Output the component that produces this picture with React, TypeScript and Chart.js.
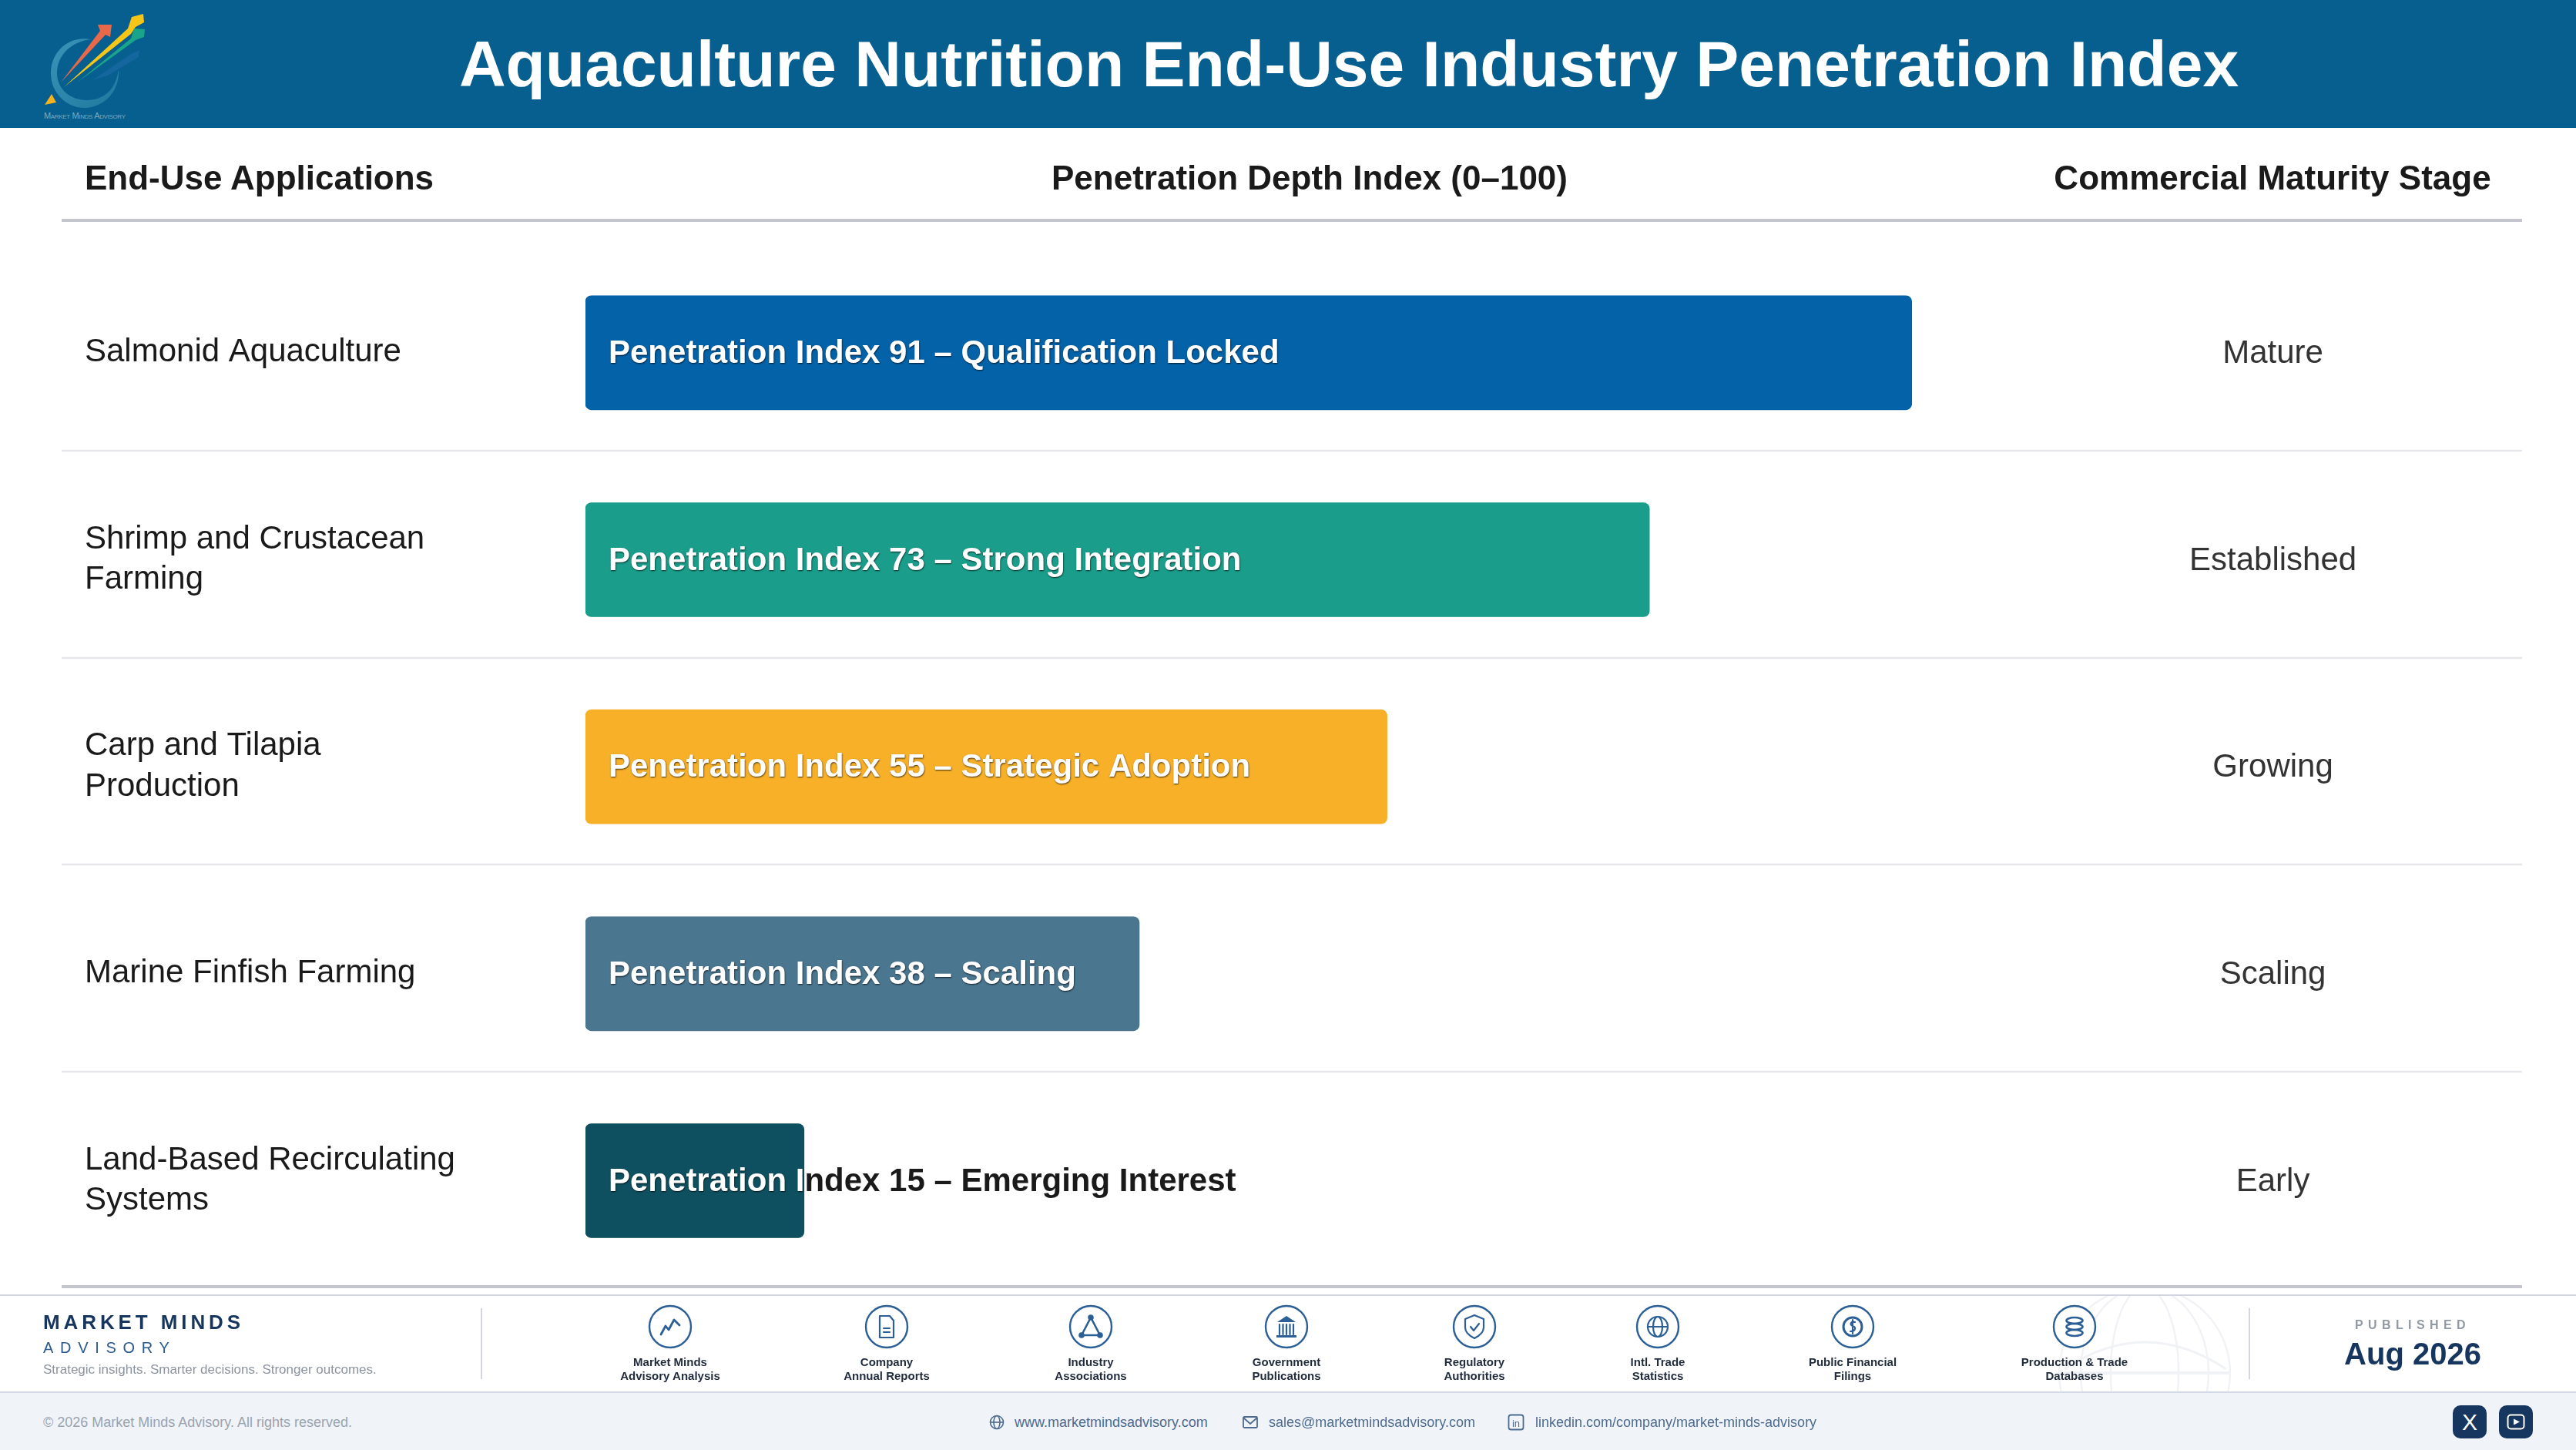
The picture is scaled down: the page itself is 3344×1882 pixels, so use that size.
import React, { useEffect, useRef } from "react";
import { Chart, registerables } from "chart.js";

Chart.register(...registerables);

const categories: (string | string[])[] = [
  "Salmonid Aquaculture",
  ["Shrimp and Crustacean", "Farming"],
  ["Carp and Tilapia", "Production"],
  "Marine Finfish Farming",
  ["Land-Based Recirculating", "Systems"],
];
const penetrationIndex = [91, 73, 55, 38, 15];
const descriptors = ["Qualification Locked", "Strong Integration", "Strategic Adoption", "Scaling", "Emerging Interest"];
const stages = ["Mature", "Established", "Growing", "Scaling", "Early"];
const barColors = ["#0462a9", "#1a9e8b", "#f8b029", "#4a7690", "#0f5060"];

const title = "Aquaculture Nutrition End-Use Industry Penetration Index";
const columnHeads = ["End-Use Applications", "Penetration Depth Index (0–100)", "Commercial Maturity Stage"];
const sources: [string, string, string][] = [
  ["Market Minds", "Advisory Analysis", "chart"],
  ["Company", "Annual Reports", "doc"],
  ["Industry", "Associations", "tri"],
  ["Government", "Publications", "bank"],
  ["Regulatory", "Authorities", "shield"],
  ["Intl. Trade", "Statistics", "globe"],
  ["Public Financial", "Filings", "coin"],
  ["Production & Trade", "Databases", "db"],
];
const sourceCentres = [870, 1151, 1416, 1670, 1914, 2152, 2405, 2693];

const FONT = "'Liberation Sans', Arial, sans-serif";
const INK = "#1a1a1a";
const NAVY = "#17365f";
const ICON = "#2b5f96";

const rowRules = {
  id: "rowRules",
  beforeDatasetsDraw(chart: any) {
    const { ctx, scales } = chart;
    const y = scales.y;
    ctx.save();
    ctx.strokeStyle = "#e6e6eb";
    ctx.lineWidth = 2.5;
    for (let i = 0; i < categories.length - 1; i++) {
      const yy = Math.round((y.getPixelForTick(i) + y.getPixelForTick(i + 1)) / 2) - 7;
      ctx.beginPath();
      ctx.moveTo(80, yy);
      ctx.lineTo(3274, yy);
      ctx.stroke();
    }
    ctx.restore();
  },
};

const barLabels = {
  id: "barLabels",
  afterDatasetsDraw(chart: any) {
    const { ctx } = chart;
    const meta = chart.getDatasetMeta(0);
    ctx.save();
    ctx.font = `bold 42px ${FONT}`;
    ctx.textBaseline = "middle";
    ctx.textAlign = "left";
    meta.data.forEach((bar: any, i: number) => {
      const text = `Penetration Index ${penetrationIndex[i]} – ${descriptors[i]}`;
      const x = bar.base + 30;
      const textY = bar.y + 1.5;
      const top = bar.y - bar.height / 2;
      const w = bar.x - bar.base;
      ctx.fillStyle = INK;
      ctx.fillText(text, x, textY);
      ctx.save();
      ctx.beginPath();
      ctx.roundRect(bar.base, top, w, bar.height, 8);
      ctx.clip();
      ctx.fillStyle = barColors[i];
      ctx.fillRect(bar.base, top, w, bar.height);
      ctx.shadowColor = "rgba(0,0,0,0.75)";
      ctx.shadowBlur = 2;
      ctx.shadowOffsetX = 0.5;
      ctx.shadowOffsetY = 1;
      ctx.fillStyle = "#ffffff";
      ctx.fillText(text, x, textY);
      ctx.restore();
    });
    ctx.restore();
  },
};

const abs = (x: number, y: number, extra: React.CSSProperties = {}): React.CSSProperties => ({
  position: "absolute",
  left: x,
  top: y,
  fontFamily: FONT,
  whiteSpace: "nowrap",
  ...extra,
});

function centredText(text: string, cx: number, cy: number, style: React.CSSProperties) {
  return (
    <div style={abs(cx, cy, { transform: "translate(-50%,-50%)", ...style })}>{text}</div>
  );
}

function SourceIcon({ kind }: { kind: string }) {
  const s = { fill: "none", stroke: ICON, strokeWidth: 2.2, strokeLinejoin: "round" as const, strokeLinecap: "round" as const };
  switch (kind) {
    case "chart":
      return <polyline {...s} strokeWidth={2.8} points="-12,10 -6,-1 -2,4 5,-9 12,-2" />;
    case "doc":
      return (
        <g {...s}>
          <path d="M-9,-14 H4 L9,-8 V14 H-9 Z" />
          <path d="M-4,2 H4 M-4,7 H4" />
        </g>
      );
    case "tri":
      return (
        <g {...s} strokeWidth={2.6}>
          <path d="M0,-12 L-12,11 H12 Z" />
          <circle cx={0} cy={-12} r={2.5} fill={ICON} />
          <circle cx={-12} cy={11} r={2.5} fill={ICON} />
          <circle cx={12} cy={11} r={2.5} fill={ICON} />
        </g>
      );
    case "bank":
      return (
        <g>
          <path d="M-12,-6 L0,-14 L12,-6 Z" fill={ICON} />
          <path d="M-9,-3 V10 M-4.5,-3 V10 M0,-3 V10 M4.5,-3 V10 M9,-3 V10" {...s} />
          <rect x={-13} y={11} width={26} height={3} fill={ICON} />
        </g>
      );
    case "shield":
      return (
        <g {...s}>
          <path d="M0,-15 L12,-10 V1 C12,8 6,12 0,15 C-6,12 -12,8 -12,1 V-10 Z" />
          <path d="M-5,0 L-1,5 L6,-4" />
        </g>
      );
    case "globe":
      return (
        <g {...s}>
          <circle r={13} />
          <ellipse rx={6} ry={13} />
          <path d="M-13,0 H13" />
        </g>
      );
    case "coin":
      return (
        <g {...s}>
          <circle r={12} strokeWidth={3} />
          <path d="M3,-6 C-3,-8 -4,-2 0,-1 C5,0 4,6 -3,6 M0,-9 V9" />
        </g>
      );
    default:
      return (
        <g {...s} strokeWidth={2.6}>
          <ellipse cy={-8} rx={10.5} ry={4} />
          <ellipse cy={0} rx={10.5} ry={4} />
          <ellipse cy={8} rx={10.5} ry={4} />
        </g>
      );
  }
}

export default function App() {
  const ref = useRef<HTMLCanvasElement>(null);

  useEffect(() => {
    document.body.style.margin = "0";
    document.body.style.overflow = "hidden";
    const chart = new Chart(ref.current as HTMLCanvasElement, {
      type: "bar",
      data: {
        labels: categories as any,
        datasets: [
          {
            data: penetrationIndex,
            backgroundColor: barColors,
            borderRadius: 8,
            borderSkipped: false,
            barThickness: 148,
          },
        ],
      },
      options: {
        indexAxis: "y",
        animation: false,
        responsive: false,
        devicePixelRatio: 1,
        layout: { padding: { left: 110, right: 0, top: 323.5, bottom: 213.5 } },
        plugins: { legend: { display: false }, tooltip: { enabled: false } },
        scales: {
          x: { type: "linear", min: 0, max: 100, display: false, grid: { display: false } },
          y: {
            type: "category",
            position: "left",
            grid: { display: false, drawTicks: false },
            border: { display: false },
            afterFit: (s: any) => {
              s.width = 650;
            },
            ticks: {
              autoSkip: false,
              crossAlign: "far",
              padding: 0,
              color: INK,
              font: { family: FONT, size: 42, lineHeight: 1.25 },
            },
          },
          stage: {
            type: "category",
            position: "right",
            labels: stages,
            grid: { display: false, drawTicks: false },
            border: { display: false },
            afterFit: (s: any) => {
              s.width = 692;
            },
            ticks: {
              autoSkip: false,
              crossAlign: "center",
              padding: 190,
              labelOffset: 1.5,
              color: "#333333",
              font: { family: FONT, size: 42 },
            },
          },
        },
      } as any,
      plugins: [rowRules, barLabels],
    });
    return () => chart.destroy();
  }, []);

  return (
    <div style={{ position: "fixed", left: 0, top: 0, width: 3344, height: 1882, overflow: "hidden", background: "#ffffff" }}>
      <canvas ref={ref} width={3344} height={1882} style={{ position: "absolute", left: 0, top: 0, width: 3344, height: 1882 }} />

      {/* banner */}
      <div style={abs(0, 0, { width: 3344, height: 166, background: "#065f8e" })} />
      <svg width={240} height={166} style={{ position: "absolute", left: 0, top: 0 }}>
        <defs>
          <linearGradient id="arc" x1="0" y1="0" x2="1" y2="1">
            <stop offset="0" stopColor="#3a94b8" />
            <stop offset="1" stopColor="#1f789e" />
          </linearGradient>
        </defs>
        <path d="M118,51 C88,46 66,68 66,95 C66,122 88,141 112,140 C136,138 156,118 154,90 C150,118 134,130 112,130 C92,130 74,116 74,95 C74,72 92,54 118,51 Z" fill="url(#arc)" />
        <polygon points="79,107 130,40 127,32 145,32 143,48 137,45" fill="#e8694a" />
        <polygon points="83,113 166,37 171,22 186,18 187,29 176,35 170,44" fill="#f5c518" />
        <polygon points="100,107 170,50 174,37 188,38 187,48 176,52" fill="#1aa58a" />
        <polygon points="120,104 170,70 181,65 180,74 140,98" fill="#1a6aa5" opacity={0.7} />
        <polygon points="58,136 67,122 73,133" fill="#f5b21e" />
        <text x={57} y={154} fontFamily={FONT} fontSize={11} fill="#7fa9bf" style={{ fontVariant: "small-caps" }} textLength={106}>
          Market Minds Advisory
        </text>
      </svg>
      {centredText(title, 1751, 83, { color: "#ffffff", fontWeight: 700, fontSize: 84 })}

      {/* column heads */}
      <div style={abs(110, 231, { transform: "translateY(-50%)", color: INK, fontWeight: 700, fontSize: 44 })}>{columnHeads[0]}</div>
      {centredText(columnHeads[1], 1700, 231, { color: INK, fontWeight: 700, fontSize: 44 })}
      {centredText(columnHeads[2], 2950, 231, { color: INK, fontWeight: 700, fontSize: 44 })}
      <div style={abs(80, 284, { width: 3194, height: 4, background: "#c6c6ce" })} />
      <div style={abs(80, 1668, { width: 3194, height: 4, background: "#c6c6ce" })} />

      {/* footer */}
      <div style={abs(0, 1680, { width: 3344, height: 2, background: "#d3d6e2" })} />
      <div style={abs(0, 1806, { width: 3344, height: 76, background: "#f0f4f9", borderTop: "2px solid #d3d8e6", boxSizing: "border-box" })} />
      <svg width={260} height={124} style={{ position: "absolute", left: 2660, top: 1682 }} opacity={0.13}>
        <g fill="none" stroke="#8a9bb5" strokeWidth={2.4} transform="translate(124,100)">
          <circle r={111} />
          <ellipse rx={83} ry={111} />
          <ellipse rx={44} ry={111} />
          <path d="M-111,0 H111" strokeWidth={4} />
          <path d="M-104,-5 Q0,-75 106,-5" strokeWidth={3} />
        </g>
      </svg>
      <div style={abs(56, 1716, { transform: "translateY(-50%)", color: NAVY, fontWeight: 700, fontSize: 26, letterSpacing: 4.9 })}>MARKET MINDS</div>
      <div style={abs(56, 1749, { transform: "translateY(-50%)", color: "#2c5a8f", fontSize: 20, letterSpacing: 8.7 })}>ADVISORY</div>
      <div style={abs(56, 1778, { transform: "translateY(-50%)", color: "#8b93a0", fontSize: 17 })}>Strategic insights. Smarter decisions. Stronger outcomes.</div>
      <div style={abs(624, 1698, { width: 2, height: 92, background: "#d3d6e2" })} />
      <div style={abs(2919, 1698, { width: 2, height: 92, background: "#d3d6e2" })} />

      {sources.map(([a, b, kind], i) => (
        <React.Fragment key={a}>
          <svg width={60} height={60} viewBox="-30 -30 60 60" style={{ position: "absolute", left: sourceCentres[i] - 30, top: 1692 }}>
            <circle r={27} fill="#ffffff" stroke={ICON} strokeWidth={2.4} />
            <SourceIcon kind={kind} />
          </svg>
          {centredText(a, sourceCentres[i], 1766.5, { color: "#1f2a3c", fontWeight: 700, fontSize: 15 })}
          {centredText(b, sourceCentres[i], 1784.5, { color: "#1f2a3c", fontWeight: 700, fontSize: 15 })}
        </React.Fragment>
      ))}

      {centredText("PUBLISHED", 3132, 1720, { color: "#9299a6", fontWeight: 700, fontSize: 16, letterSpacing: 6.4 })}
      {centredText("Aug 2026", 3132, 1757, { color: NAVY, fontWeight: 700, fontSize: 40 })}

      <div style={abs(56, 1846, { transform: "translateY(-50%)", color: "#9aa3ae", fontSize: 18 })}>© 2026 Market Minds Advisory. All rights reserved.</div>

      <svg width={24} height={24} viewBox="-12 -12 24 24" style={{ position: "absolute", left: 1282, top: 1834 }}>
        <g fill="none" stroke="#4d6a8f" strokeWidth={1.6}>
          <circle r={8.5} />
          <ellipse rx={4} ry={8.5} />
          <path d="M-8.5,0 H8.5" />
        </g>
      </svg>
      <div style={abs(1317, 1846, { transform: "translateY(-50%)", color: "#4d6a8f", fontSize: 18 })}>www.marketmindsadvisory.com</div>
      <svg width={24} height={24} viewBox="-12 -12 24 24" style={{ position: "absolute", left: 1611, top: 1834 }}>
        <g fill="none" stroke="#4d6a8f" strokeWidth={1.8}>
          <rect x={-9} y={-7} width={18} height={14} rx={1.5} />
          <path d="M-9,-6 L0,2 L9,-6" />
        </g>
      </svg>
      <div style={abs(1647, 1846, { transform: "translateY(-50%)", color: "#4d6a8f", fontSize: 18 })}>sales@marketmindsadvisory.com</div>
      <svg width={24} height={24} viewBox="-12 -12 24 24" style={{ position: "absolute", left: 1956, top: 1834 }}>
        <rect x={-9.5} y={-9.5} width={19} height={19} rx={3} fill="none" stroke="#4d6a8f" strokeWidth={1.8} />
        <text x={0} y={5.5} textAnchor="middle" fontFamily={FONT} fontSize={13} fill="#4d6a8f">in</text>
      </svg>
      <div style={abs(1993, 1846, { transform: "translateY(-50%)", color: "#4d6a8f", fontSize: 18 })}>linkedin.com/company/market-minds-advisory</div>

      <div style={abs(3184, 1824, { width: 44, height: 43, borderRadius: 10, background: NAVY, color: "#fff", fontSize: 30, textAlign: "center", lineHeight: "43px" })}>X</div>
      <svg width={44} height={43} viewBox="-22 -21.5 44 43" style={{ position: "absolute", left: 3244, top: 1824 }}>
        <rect x={-22} y={-21.5} width={44} height={43} rx={10} fill={NAVY} />
        <rect x={-10.5} y={-9} width={21} height={18} rx={4} fill="none" stroke="#fff" strokeWidth={2} />
        <polygon points="-3,-4 5,0 -3,4" fill="#fff" />
      </svg>
    </div>
  );
}
